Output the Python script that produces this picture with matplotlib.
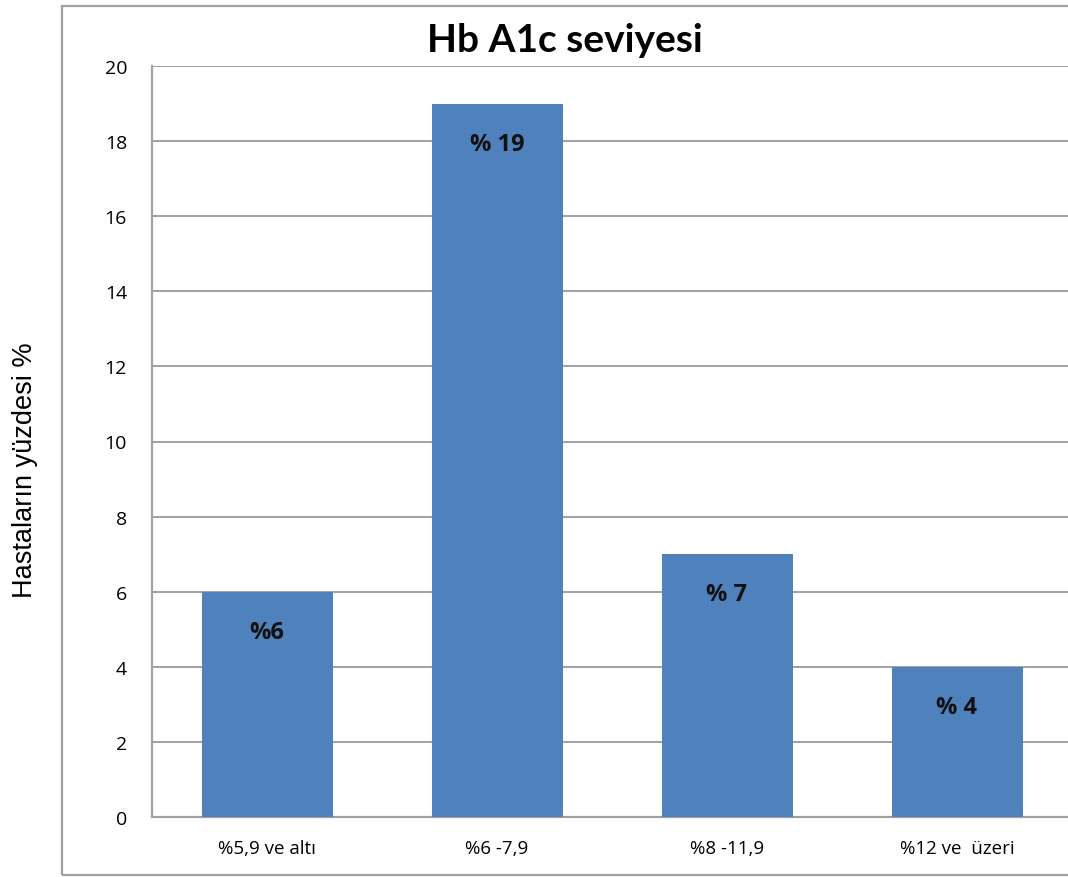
import matplotlib.pyplot as plt
from matplotlib.patches import Rectangle

categories = ['%5,9 ve altı', '%6 -7,9', '%8 -11,9', '%12 ve  üzeri']
values = [6, 19, 7, 4]
value_labels = ['%6', '% 19', '% 7', '% 4']
y_ticks = [0, 2, 4, 6, 8, 10, 12, 14, 16, 18, 20]

BAR_COLOR = '#4F81BD'
GRID_COLOR = '#a0a0a0'

W, H = 1068, 878
fig = plt.figure(figsize=(W / 100, H / 100), dpi=100)

# outer chart border (runs off the right edge like the source)
fig.patches.append(Rectangle((62 / W, 2 / H), 1.1, (876 - 7) / H,
                             transform=fig.transFigure, fill=False,
                             edgecolor=GRID_COLOR, linewidth=1.6))

ax = fig.add_axes([152 / W, (H - 818) / H, 920 / W, 751 / H])
x = range(len(categories))
ax.bar(x, values, width=131 / 230, color=BAR_COLOR, zorder=3)
ax.set_xlim(-0.5, len(categories) - 0.5)
ax.set_ylim(0, 20)
ax.set_yticks(y_ticks)
ax.set_xticks(list(x))
ax.set_xticklabels(categories, fontfamily='Open Sans', fontsize=13.5)
ax.tick_params(axis='y', length=0, pad=18, labelsize=14)
ax.tick_params(axis='x', length=0, pad=16)
for lab in ax.get_yticklabels():
    lab.set_fontfamily('Open Sans')
ax.yaxis.grid(True, color=GRID_COLOR, linewidth=1.4, zorder=0)
ax.set_axisbelow(True)
for side in ['top', 'right']:
    ax.spines[side].set_visible(False)
for side in ['left', 'bottom']:
    ax.spines[side].set_color(GRID_COLOR)
    ax.spines[side].set_linewidth(1.6)

for i, (v, lab) in enumerate(zip(values, value_labels)):
    ax.annotate(lab, (i, v), xytext=(0, -29), textcoords='offset points',
                ha='center', va='center', fontsize=17, fontweight='bold',
                fontfamily='Open Sans', color='#111111', zorder=4)

fig.text(565 / W, (H - 40) / H, 'Hb A1c seviyesi', ha='center', va='center',
         fontsize=28, fontweight='bold', fontfamily='Lato')
fig.text(25 / W, (H - 470) / H, 'Hastaların yüzdesi %', rotation=90,
         ha='center', va='center', fontsize=19.5, fontfamily='Liberation Sans')

fig.savefig('out.png', dpi=100)
